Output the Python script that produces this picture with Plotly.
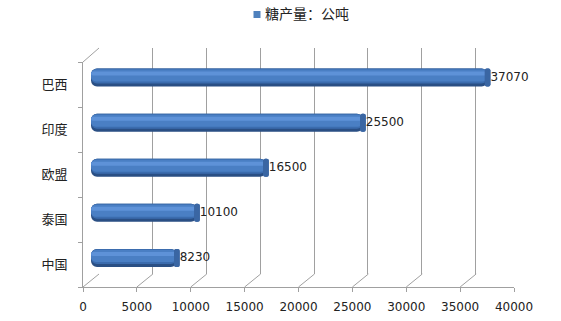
import plotly.graph_objects as go

# ---- data ----
categories = ["中国", "泰国", "欧盟", "印度", "巴西"]
values = [8230, 10100, 16500, 25500, 37070]
series_name = "糖产量：公吨"
tick_values = [0, 5000, 10000, 15000, 20000, 25000, 30000, 35000, 40000]
x_max = 40000

W, H = 561, 321
FONT = "Noto Sans CJK SC, Liberation Sans, Arial, sans-serif"
NUMFONT = "DejaVu Sans, Verdana, sans-serif"
GRID = "#a0a0a0"
CAP = 520  # visual depth of the cylinder end (data units)


def px_x(p):
    return p / W


def px_y(p):
    return (H - p) / H


front_x = [px_x(83), px_x(514)]
front_y = [px_y(287), px_y(62)]
back_x = [px_x(99), px_x(529)]
back_y = [px_y(274), px_y(48)]
mid_x = [px_x(91), px_x(522)]
mid_y = [px_y(280.5), px_y(55)]

fig = go.Figure()

# invisible trace defining the front category axis
fig.add_trace(go.Scatter(x=values, y=categories, xaxis="x", yaxis="y", mode="markers",
                         marker=dict(opacity=0), showlegend=False, hoverinfo="skip"))

# invisible trace for the back wall
fig.add_trace(go.Scatter(x=[0, x_max], y=[0, 1], xaxis="x2", yaxis="y2", mode="markers",
                         marker=dict(opacity=0), showlegend=False, hoverinfo="skip"))

# cylinder body layers (bars pointing left so the left end is rounded)
body_end = [v - CAP / 2 for v in values]
thick = 18 / 45
half = thick / 2
layers = [
    # (thickness, top inset, colour, radius)
    (thick, 0.0, "#2a4f84", 6),
    (15 / 45, 0.0, "#3b6cae", 6),
    (12 / 45, 1 / 45, "#4a7fc4", 5),
    (4 / 45, 3 / 45, "#5e92d8", 3),
]
for w, inset, col, r in layers:
    top = half - inset
    fig.add_trace(go.Bar(
        y=categories, x=[-b for b in body_end], base=body_end, orientation="h",
        width=w, offset=top - w, marker=dict(color=col, cornerradius=r, line=dict(width=0)),
        xaxis="x3", yaxis="y3", showlegend=False, hoverinfo="skip"))

# end caps
fig.add_trace(go.Bar(
    y=categories, x=[-CAP] * len(values), base=values, orientation="h",
    width=thick, offset=-half, marker=dict(color="#3a66a3", cornerradius="50%", line=dict(width=0)),
    xaxis="x3", yaxis="y3", showlegend=False, hoverinfo="skip"))
fig.add_trace(go.Bar(
    y=categories, x=[CAP] * len(values), base=[v - CAP for v in values], orientation="h",
    width=thick, offset=-half, marker=dict(color="#3a66a3", cornerradius="50%", line=dict(width=0)),
    xaxis="x3", yaxis="y3", showlegend=False, hoverinfo="skip"))

# value labels
fig.add_trace(go.Scatter(
    x=values, y=categories, mode="text", text=[str(v) for v in values],
    textposition="middle right", cliponaxis=False,
    textfont=dict(family=NUMFONT, size=12, color="#222222"),
    xaxis="x3", yaxis="y3", showlegend=False, hoverinfo="skip"))

# 3D depth edges
dx = (back_x[0] - front_x[0]) * W
shapes = []
for t in tick_values:
    shapes.append(dict(type="line", xref="x", xsizemode="pixel", xanchor=t, x0=0, x1=dx,
                       yref="paper", y0=front_y[0], y1=back_y[0],
                       line=dict(color=GRID, width=1)))
shapes.append(dict(type="line", xref="x", xsizemode="pixel", xanchor=0, x0=0, x1=dx,
                   yref="paper", y0=front_y[1], y1=back_y[1],
                   line=dict(color=GRID, width=1)))

# legend (square key + text)
legend_x = px_x(257)
legend_y = px_y(14.5)
shapes.append(dict(type="rect", xref="paper", yref="paper",
                   xsizemode="pixel", ysizemode="pixel", xanchor=legend_x, yanchor=legend_y,
                   x0=-3.5, x1=3.5, y0=-3.5, y1=3.5,
                   fillcolor="#4f81bd", line=dict(width=0)))
annotations = [dict(text=series_name, xref="paper", yref="paper", x=px_x(263), y=px_y(13),
                    xanchor="left", yanchor="middle", showarrow=False,
                    font=dict(family=FONT, size=14, color="#222222"))]

fig.update_layout(
    width=W, height=H,
    margin=dict(l=0, r=0, t=0, b=0, autoexpand=False),
    paper_bgcolor="white", plot_bgcolor="rgba(0,0,0,0)",
    barmode="overlay",
    font=dict(family=FONT, size=13, color="#222222"),
    shapes=shapes,
    annotations=annotations,
    showlegend=False,
    xaxis=dict(domain=front_x, range=[0, x_max], anchor="y", tickvals=tick_values,
               tickformat="d", automargin=False,
               ticks="outside", ticklen=4, tickcolor=GRID, showline=True, linecolor=GRID,
               linewidth=1, showgrid=False, zeroline=False, ticklabelstandoff=5,
               tickfont=dict(family=NUMFONT, size=12, color="#222222")),
    yaxis=dict(domain=front_y, type="category", categoryorder="array", categoryarray=categories,
               range=[-0.5, len(categories) - 0.5], anchor="x", showline=True, linecolor=GRID,
               automargin=False,
               ticks="outside", tickson="boundaries", ticklen=4, tickcolor=GRID, showgrid=False,
               zeroline=False, ticklabelstandoff=12,
               tickfont=dict(family=FONT, size=13, color="#222222")),
    xaxis2=dict(domain=back_x, range=[0, x_max], anchor="y2", tickvals=tick_values,
                automargin=False,
                showgrid=True, gridcolor=GRID, gridwidth=1, showticklabels=False, ticks="",
                showline=False, zeroline=False),
    yaxis2=dict(domain=back_y, range=[0, 1], anchor="x2", showgrid=False, showticklabels=False,
                automargin=False, ticks="", showline=False, zeroline=False),
    xaxis3=dict(domain=mid_x, range=[0, x_max], anchor="y3", visible=False, automargin=False),
    yaxis3=dict(domain=mid_y, type="category", categoryorder="array", categoryarray=categories,
                range=[-0.5, len(categories) - 0.5], anchor="x3", visible=False, automargin=False),
)

fig.write_html("out.html")
